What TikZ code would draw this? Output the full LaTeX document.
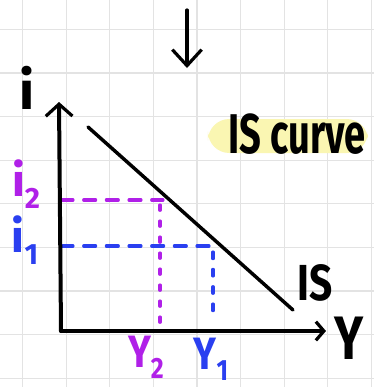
\documentclass[tikz,border=0pt]{standalone}
\usepackage{fontspec}
\setmainfont{Fira Sans}
\usetikzlibrary{arrows.meta}
\definecolor{gridc}{HTML}{E3E3E3}
\definecolor{purp}{HTML}{B020E8}
\definecolor{blu}{HTML}{2A3FF0}
\definecolor{hil}{HTML}{FAF6B2}
\newcommand{\lowsub}[2]{\raisebox{-#1}{#2}}
\tikzset{
  gridline/.style={draw=gridc, line width=0.9pt},
  axisline/.style={draw=black, line width=3pt, line cap=round},
  barb/.style={-{Straight Barb[length=9pt,width=20pt,line width=2.4pt]}},
  isline/.style={draw=black, line width=2.6pt, line cap=round},
  pdash/.style={draw=purp, line width=2.3pt, line cap=round, dash pattern=on 9pt off 8pt},
  bdash/.style={draw=blu, line width=2.3pt, line cap=round, dash pattern=on 9pt off 8pt},
  pvdash/.style={draw=purp, line width=2.3pt, line cap=round, dash pattern=on 4pt off 8pt},
  bvdash/.style={draw=blu, line width=2.3pt, line cap=round, dash pattern=on 5pt off 8pt},
  lbl/.style={inner sep=0pt, font=\fontsize{28}{30}\selectfont\bfseries},
}
\begin{document}
\begin{tikzpicture}[x=0.75pt,y=-0.75pt]
\useasboundingbox (0,0) rectangle (374,387);
\fill[white] (0,0) rectangle (374,387);
% grid
\foreach \i in {0,...,8} {
  \draw[gridline] ({22.7+43.6*\i},0) -- ++(0,387);
  \draw[gridline] (0,{29.3+43.6*\i}) -- ++(374,0);
}
% highlight
\fill[hil, rounded corners=16pt] (208,119) rectangle (368,153);
% coordinates
\coordinate (O) at (61,331);
\coordinate (ytop) at (59,102);
\coordinate (xend) at (326,331);
\coordinate (dtop) at (187,10);
\coordinate (dbot) at (187,68);
\coordinate (isA) at (88,127);
\coordinate (isB) at (293,310);
\coordinate (p2) at (163,200);
\coordinate (p2y) at (61,200);
\coordinate (p2b) at (160,205);
\coordinate (p2x) at (160,325);
\coordinate (p1) at (215,246);
\coordinate (p1y) at (61,246);
\coordinate (p1b) at (213,252);
\coordinate (p1x) at (213,318);
% dashed guides
\draw[pdash] (p2y) -- (p2);
\draw[pvdash] (p2b) -- (p2x);
\draw[bdash] (p1y) -- (p1);
\draw[bvdash] (p1b) -- (p1x);
% axes
\draw[axisline, barb] (O) -- (ytop);
\draw[axisline, -{Straight Barb[length=6pt,width=14pt,line width=2.4pt]}] (O) -- (xend);
% IS line
\draw[isline] (isA) -- (isB);
% down arrow
\draw[line width=2.4pt, line cap=round, -{Straight Barb[length=12pt,width=22pt,line width=2.4pt]}] (dtop) -- (dbot);
% labels
\node[lbl] (ilab) at (27,88) {\fontsize{40}{40}\selectfont i};
\node[lbl] (iscurve) at (297,134) {\scalebox{0.68}[1]{\fontsize{42}{42}\selectfont IS curve}};
\node[lbl] (islab) at (315,283) {\scalebox{0.8}[1]{\fontsize{38}{40}\selectfont IS}};
\node[lbl] (ylab) at (349,338) {\scalebox{0.8}[1]{\fontsize{46}{46}\selectfont Y}};
\node[lbl, text=purp] (i2) at (26,184) {\fontsize{34}{34}\selectfont i\lowsub{0.25em}{\fontsize{22}{22}\selectfont 2}};
\node[lbl, text=blu] (i1) at (25,240) {\fontsize{34}{34}\selectfont i\lowsub{0.25em}{\fontsize{22}{22}\selectfont 1}};
\node[lbl, text=purp] (y2) at (146,357) {\scalebox{0.85}[1]{\fontsize{34}{34}\selectfont Y\lowsub{0.25em}{\fontsize{22}{22}\selectfont 2}}};
\node[lbl, text=blu] (y1) at (211,359) {\scalebox{0.85}[1]{\fontsize{34}{34}\selectfont Y\lowsub{0.25em}{\fontsize{22}{22}\selectfont 1}}};
\end{tikzpicture}
\end{document}
